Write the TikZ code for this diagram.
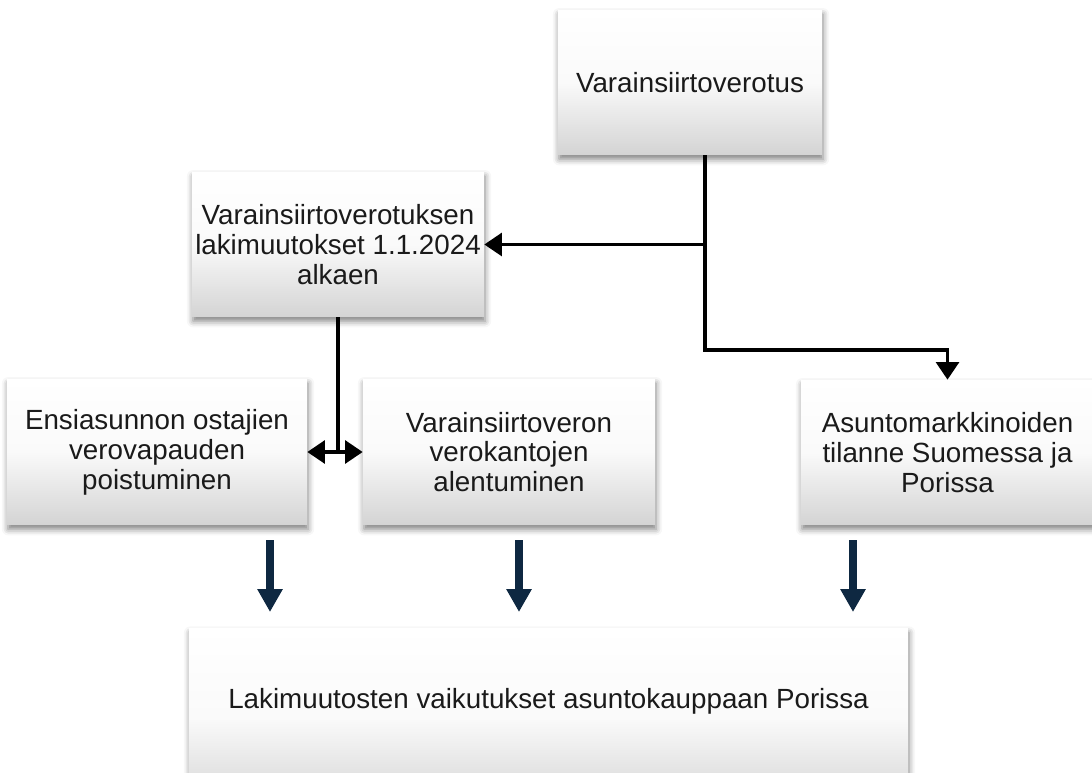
\documentclass[tikz,border=0pt]{standalone}
\usepackage{fontspec}
\setmainfont{Liberation Sans}
\usetikzlibrary{arrows.meta,shadows.blur}
\definecolor{navy}{HTML}{0E2841}
\definecolor{inkgray}{HTML}{1A1A1A}
\tikzset{%
  box/.style  = {shape=rectangle, align=center, inner sep=0pt,%
                 top color=white, bottom color=black!17, middle color=black!2,%
                 text=inkgray, font=\fontsize{15.8}{17}\selectfont,%
                 blur shadow={shadow xshift=0.6pt, shadow yshift=-2.4pt,%
                              shadow blur radius=3.5pt, shadow opacity=50}},%
  wire/.style = {line width=1.9pt, black},%
  push/.style = {navy, line width=4pt, -{Triangle[width=13.6pt,length=13pt]},%
                 shorten <=0.3cm, shorten >=0.32cm}%
}
\begin{document}
\begin{tikzpicture}[x=0.02cm, y=-0.02cm, >={Triangle[width=13pt,length=10pt]}]
  \useasboundingbox (0,0) rectangle (1092,773);
  \node[box, minimum width=5.28cm, minimum height=2.9cm] (tax) at (690,82.5)
    {Varainsiirtoverotus};
  \node[box, minimum width=5.84cm, minimum height=2.9cm] (law) at (338,244.5)
    {Varainsiirtoverotuksen\\lakimuutokset 1.1.2024\\alkaen};
  \node[box, minimum width=6cm, minimum height=2.92cm] (first) at (157,452)
    {Ensiasunnon ostajien\\verovapauden\\poistuminen};
  \node[box, minimum width=5.84cm, minimum height=2.92cm] (rate) at (509,452)
    {Varainsiirtoveron\\verokantojen\\alentuminen};
  \node[box, minimum width=5.86cm, minimum height=2.9cm] (market) at (947.5,452.5)
    {Asuntomarkkinoiden\\tilanne Suomessa ja\\Porissa};
  \node[box, anchor=north, minimum width=14.38cm, minimum height=3.6cm,
        text height=0.38cm, text depth=0.78cm] (effect) at (548.5,628)
    {Lakimuutosten vaikutukset asuntokauppaan Porissa};

  \coordinate (trunk) at (705,350);
  \coordinate (c1) at (270,0);
  \coordinate (c2) at (519,0);
  \coordinate (c3) at (853,0);

  \draw[wire,->] (tax.south -| trunk) -- (trunk) -| (market.north);
  \draw[wire,->] (trunk |- law.east) -- (law.east);
  \draw[wire] (law.south) -- (law.south |- first.east);
  \draw[wire,<->] (first.east) -- (rate.west);

  \draw[push] (first.south -| c1) -- (effect.north -| c1);
  \draw[push] (rate.south -| c2) -- (effect.north -| c2);
  \draw[push] (market.south -| c3) -- (effect.north -| c3);
\end{tikzpicture}
\end{document}
